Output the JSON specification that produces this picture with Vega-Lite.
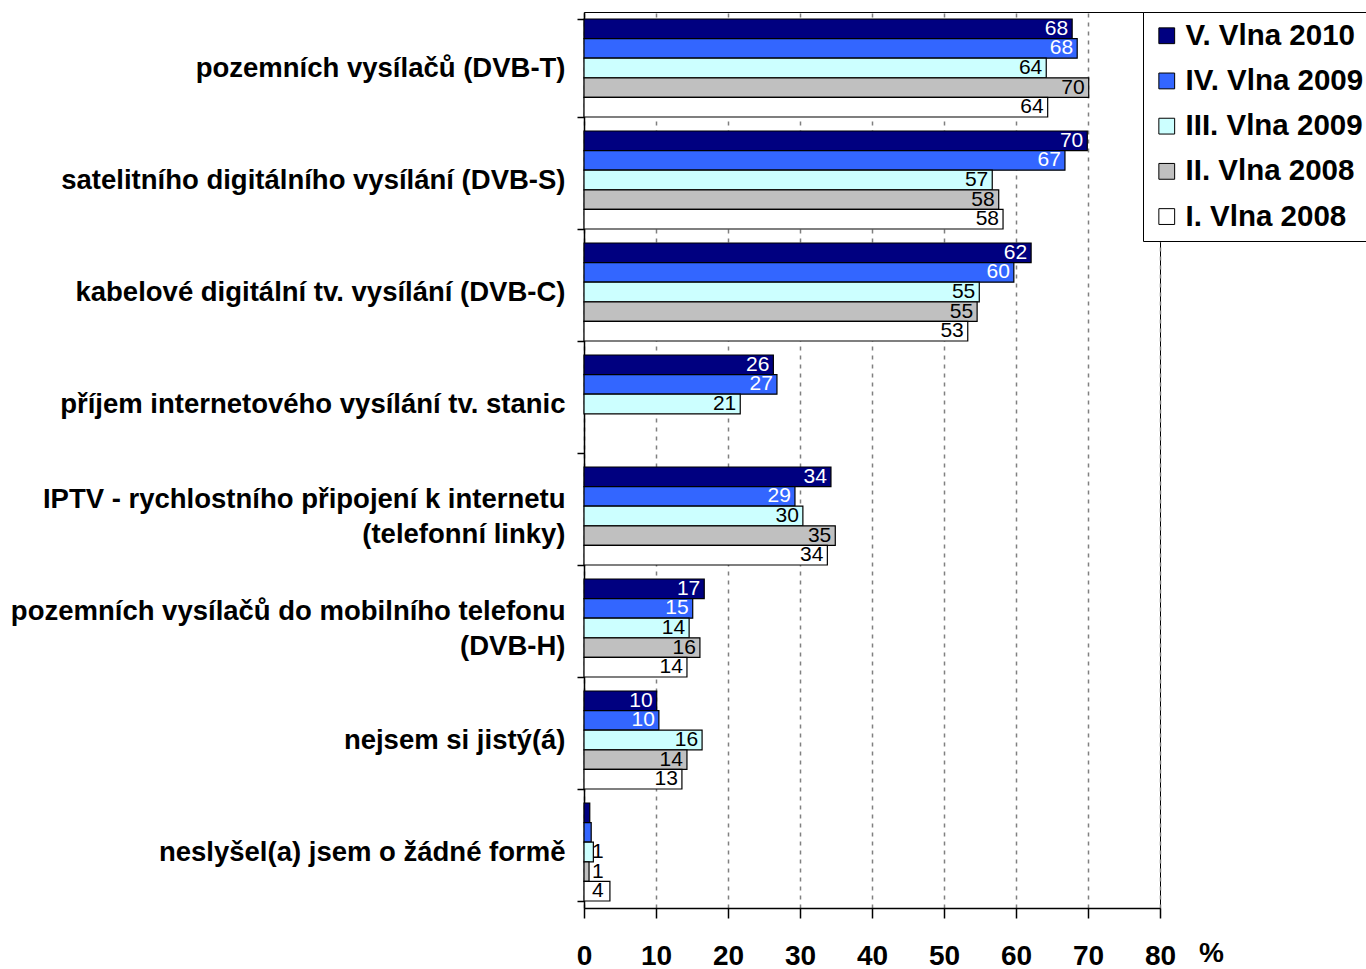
{
  "$schema": "https://vega.github.io/schema/vega-lite/v6.json",
  "autosize": {"type": "none"},
  "width": 576,
  "height": 896,
  "padding": {"left": 584, "top": 12, "right": 206, "bottom": 61},
  "background": "white",
  "config": {
    "font": "Liberation Sans",
    "view": {"stroke": "#000000", "strokeWidth": 1}
  },
  "data": {
    "values": [
      {"c": "pozemních vysílačů (DVB-T)", "s": "V. Vlna 2010", "v": 67.8, "t": "68"},
      {"c": "pozemních vysílačů (DVB-T)", "s": "IV. Vlna 2009", "v": 68.5, "t": "68"},
      {"c": "pozemních vysílačů (DVB-T)", "s": "III. Vlna 2009", "v": 64.2, "t": "64"},
      {"c": "pozemních vysílačů (DVB-T)", "s": "II. Vlna 2008", "v": 70.1, "t": "70"},
      {"c": "pozemních vysílačů (DVB-T)", "s": "I. Vlna 2008", "v": 64.4, "t": "64"},
      {"c": "satelitního digitálního vysílání (DVB-S)", "s": "V. Vlna 2010", "v": 69.9, "t": "70"},
      {"c": "satelitního digitálního vysílání (DVB-S)", "s": "IV. Vlna 2009", "v": 66.8, "t": "67"},
      {"c": "satelitního digitálního vysílání (DVB-S)", "s": "III. Vlna 2009", "v": 56.7, "t": "57"},
      {"c": "satelitního digitálního vysílání (DVB-S)", "s": "II. Vlna 2008", "v": 57.6, "t": "58"},
      {"c": "satelitního digitálního vysílání (DVB-S)", "s": "I. Vlna 2008", "v": 58.2, "t": "58"},
      {"c": "kabelové digitální tv. vysílání (DVB-C)", "s": "V. Vlna 2010", "v": 62.1, "t": "62"},
      {"c": "kabelové digitální tv. vysílání (DVB-C)", "s": "IV. Vlna 2009", "v": 59.7, "t": "60"},
      {"c": "kabelové digitální tv. vysílání (DVB-C)", "s": "III. Vlna 2009", "v": 54.9, "t": "55"},
      {"c": "kabelové digitální tv. vysílání (DVB-C)", "s": "II. Vlna 2008", "v": 54.6, "t": "55"},
      {"c": "kabelové digitální tv. vysílání (DVB-C)", "s": "I. Vlna 2008", "v": 53.3, "t": "53"},
      {"c": "příjem internetového vysílání tv. stanic", "s": "V. Vlna 2010", "v": 26.3, "t": "26"},
      {"c": "příjem internetového vysílání tv. stanic", "s": "IV. Vlna 2009", "v": 26.8, "t": "27"},
      {"c": "příjem internetového vysílání tv. stanic", "s": "III. Vlna 2009", "v": 21.7, "t": "21"},
      {"c": "IPTV - rychlostního připojení k internetu\n(telefonní linky)", "s": "V. Vlna 2010", "v": 34.3, "t": "34"},
      {"c": "IPTV - rychlostního připojení k internetu\n(telefonní linky)", "s": "IV. Vlna 2009", "v": 29.3, "t": "29"},
      {"c": "IPTV - rychlostního připojení k internetu\n(telefonní linky)", "s": "III. Vlna 2009", "v": 30.4, "t": "30"},
      {"c": "IPTV - rychlostního připojení k internetu\n(telefonní linky)", "s": "II. Vlna 2008", "v": 34.9, "t": "35"},
      {"c": "IPTV - rychlostního připojení k internetu\n(telefonní linky)", "s": "I. Vlna 2008", "v": 33.8, "t": "34"},
      {"c": "pozemních vysílačů do mobilního telefonu\n(DVB-H)", "s": "V. Vlna 2010", "v": 16.7, "t": "17"},
      {"c": "pozemních vysílačů do mobilního telefonu\n(DVB-H)", "s": "IV. Vlna 2009", "v": 15.1, "t": "15"},
      {"c": "pozemních vysílačů do mobilního telefonu\n(DVB-H)", "s": "III. Vlna 2009", "v": 14.6, "t": "14"},
      {"c": "pozemních vysílačů do mobilního telefonu\n(DVB-H)", "s": "II. Vlna 2008", "v": 16.1, "t": "16"},
      {"c": "pozemních vysílačů do mobilního telefonu\n(DVB-H)", "s": "I. Vlna 2008", "v": 14.3, "t": "14"},
      {"c": "nejsem si jistý(á)", "s": "V. Vlna 2010", "v": 10.1, "t": "10"},
      {"c": "nejsem si jistý(á)", "s": "IV. Vlna 2009", "v": 10.4, "t": "10"},
      {"c": "nejsem si jistý(á)", "s": "III. Vlna 2009", "v": 16.4, "t": "16"},
      {"c": "nejsem si jistý(á)", "s": "II. Vlna 2008", "v": 14.3, "t": "14"},
      {"c": "nejsem si jistý(á)", "s": "I. Vlna 2008", "v": 13.6, "t": "13"},
      {"c": "neslyšel(a) jsem o žádné formě", "s": "V. Vlna 2010", "v": 0.8},
      {"c": "neslyšel(a) jsem o žádné formě", "s": "IV. Vlna 2009", "v": 1.0},
      {"c": "neslyšel(a) jsem o žádné formě", "s": "III. Vlna 2009", "v": 1.3, "t": "1"},
      {"c": "neslyšel(a) jsem o žádné formě", "s": "II. Vlna 2008", "v": 0.7, "t": "1"},
      {"c": "neslyšel(a) jsem o žádné formě", "s": "I. Vlna 2008", "v": 3.6, "t": "4"}
    ]
  },
  "encoding": {
    "y": {
      "field": "c",
      "type": "nominal",
      "sort": null,
      "scale": {"paddingInner": 0.125, "paddingOuter": 0.0625},
      "axis": {
        "title": null,
        "labelExpr": "isValid(datum.value) ? split(datum.value, '\\n') : ''",
        "labelFontSize": 27.5,
        "labelFontWeight": "bold",
        "labelColor": "#000000",
        "labelLineHeight": 35,
        "labelLimit": 700,
        "labelPadding": 12,
        "labelOffset": {"condition": {"test": "isValid(datum.value) && indexof(datum.value, '\\n') >= 0", "value": -17}, "value": 0},
        "tickBand": "extent",
        "tickSize": 7,
        "tickColor": "#000000",
        "tickWidth": 1.5,
        "domainColor": "#000000",
        "domainWidth": 1.5
      }
    },
    "yOffset": {
      "field": "s",
      "type": "nominal",
      "sort": ["V. Vlna 2010", "IV. Vlna 2009", "III. Vlna 2009", "II. Vlna 2008", "I. Vlna 2008"],
      "scale": {"paddingInner": 0, "paddingOuter": 0}
    },
    "x": {
      "field": "v",
      "type": "quantitative",
      "scale": {"domain": [0, 80], "nice": false},
      "axis": {
        "values": [0, 10, 20, 30, 40, 50, 60, 70, 80],
        "title": "%",
        "titleFontSize": 28,
        "titleFontWeight": "bold",
        "titleColor": "#000000",
        "titleX": 627,
        "titleY": 45,
        "titleAlign": "center",
        "titleBaseline": "middle",
        "labelFontSize": 28,
        "labelFontWeight": "bold",
        "labelColor": "#000000",
        "labelPadding": 24,
        "labelFlush": false,
        "tickSize": 10,
        "tickColor": "#000000",
        "tickWidth": 1.5,
        "domainColor": "#000000",
        "domainWidth": 1.5,
        "grid": true,
        "gridColor": "#808080",
        "gridDash": [4, 5],
        "gridWidth": 1.5
      }
    }
  },
  "layer": [
    {
      "mark": {"type": "bar", "stroke": "#000000", "strokeWidth": 1.2},
      "encoding": {
        "color": {
          "field": "s",
          "type": "nominal",
          "scale": {
            "domain": ["V. Vlna 2010", "IV. Vlna 2009", "III. Vlna 2009", "II. Vlna 2008", "I. Vlna 2008"],
            "range": ["#000080", "#3366FF", "#CCFFFF", "#C0C0C0", "#FFFFFF"]
          },
          "legend": {
            "title": null,
            "orient": "none",
            "legendX": 559,
            "legendY": 0,
            "symbolType": "square",
            "symbolSize": 250,
            "symbolStrokeColor": "#000000",
            "symbolStrokeWidth": 1,
            "symbolOpacity": 1,
            "labelFontSize": 29.5,
            "labelFontWeight": "bold",
            "labelColor": "#000000",
            "labelOffset": 4,
            "labelLimit": 400,
            "rowPadding": 14.2,
            "padding": 9,
            "fillColor": "#FFFFFF",
            "strokeColor": "#000000"
          }
        }
      }
    },
    {
      "transform": [
        {"filter": "isValid(datum.t) && (datum.s == 'V. Vlna 2010' || datum.s == 'IV. Vlna 2009')"}
      ],
      "mark": {"type": "text", "align": "right", "baseline": "middle", "dx": -4, "fontSize": 21, "fill": "#FFFFFF"},
      "encoding": {"text": {"field": "t"}}
    },
    {
      "transform": [
        {"filter": "isValid(datum.t) && datum.v >= 5 && datum.s != 'V. Vlna 2010' && datum.s != 'IV. Vlna 2009'"}
      ],
      "mark": {"type": "text", "align": "right", "baseline": "middle", "dx": -4, "fontSize": 21, "fill": "#000000"},
      "encoding": {"text": {"field": "t"}}
    },
    {
      "transform": [
        {"filter": "isValid(datum.t) && datum.v < 5"}
      ],
      "mark": {"type": "text", "align": "left", "baseline": "middle", "dx": 8, "fontSize": 21, "fill": "#000000"},
      "encoding": {"x": {"datum": 0, "type": "quantitative"}, "text": {"field": "t"}}
    }
  ]
}
